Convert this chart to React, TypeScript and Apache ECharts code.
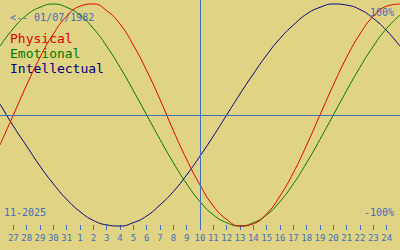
import React, { useEffect, useRef } from "react";
import * as echarts from "echarts";

// Day-of-month labels, Oct 26 .. Nov 25 2025 (today = Nov 10 in the centre)
const dayLabels = [
  "26", "27", "28", "29", "30", "31", "1", "2", "3", "4", "5", "6", "7", "8", "9", "10",
  "11", "12", "13", "14", "15", "16", "17", "18", "19", "20", "21", "22", "23", "24", "25",
];
const todayLabel = "10";

const physical = [
  -0.27, 0, 0.27, 0.52, 0.73, 0.89, 0.98, 1.0, 0.94, 0.82, 0.63, 0.4, 0.14, -0.14, -0.4, -0.63,
  -0.82, -0.94, -1.0, -0.98, -0.89, -0.73, -0.52, -0.27, 0, 0.27, 0.52, 0.73, 0.89, 0.98, 1.0,
];
const emotional = [
  0.62, 0.78, 0.9, 0.97, 1.0, 0.97, 0.9, 0.78, 0.62, 0.43, 0.22, 0, -0.22, -0.43, -0.62, -0.78,
  -0.9, -0.97, -1.0, -0.97, -0.9, -0.78, -0.62, -0.43, -0.22, 0, 0.22, 0.43, 0.62, 0.78, 0.9,
];
const intellectual = [
  0.1, -0.1, -0.28, -0.46, -0.62, -0.76, -0.87, -0.95, -0.99, -1.0, -0.97, -0.91, -0.81, -0.69, -0.54, -0.37,
  -0.19, 0, 0.19, 0.37, 0.54, 0.69, 0.81, 0.91, 0.97, 1.0, 0.99, 0.95, 0.87, 0.76, 0.62,
];

const seriesNames = ["Physical", "Emotional", "Intellectual"];
const birthText = "<-- 01/07/1982";
const monthText = "11-2025";
const topText = "100%";
const bottomText = "-100%";

const BG = "#E0D383";
const BLUE = "#3F6FBE";
const RED = "#E00000";
const GREEN = "#007800";
const NAVY = "#000080";
const MONO = "'DejaVu Sans Mono', 'Liberation Mono', monospace";

export default function App() {
  const ref = useRef<HTMLDivElement>(null);
  useEffect(() => {
    if (!ref.current) return;
    const chart = echarts.init(ref.current, undefined, { renderer: "svg" });
    const txt = (text: string, x: number, y: number, fill: string, size: number, align: string) => ({
      type: "text",
      x,
      y,
      silent: true,
      style: {
        text,
        fill,
        font: `${size}px ${MONO}`,
        textAlign: align,
        align,
        textVerticalAlign: "middle",
        verticalAlign: "middle",
      },
    });
    const inner = (i: number) => i > 0 && i < dayLabels.length - 1;
    chart.setOption({
      animation: false,
      backgroundColor: BG,
      grid: { left: 0, right: 0, top: 0, bottom: 20 },
      xAxis: {
        type: "category",
        data: dayLabels,
        boundaryGap: false,
        axisLine: { show: false, onZero: false },
        axisTick: {
          show: true,
          inside: true,
          length: 5,
          interval: inner,
          lineStyle: { color: BLUE, width: 1 },
        },
        axisLabel: {
          show: true,
          margin: 3,
          interval: inner,
          color: BLUE,
          fontFamily: MONO,
          fontSize: 9,
        },
        splitLine: { show: false },
      },
      yAxis: {
        type: "value",
        min: -1.036,
        max: 1.036,
        show: false,
        splitLine: { show: false },
      },
      series: [
        {
          name: seriesNames[1],
          type: "line",
          data: emotional,
          smooth: true,
          symbol: "none",
          lineStyle: { color: GREEN, width: 1 },
          z: 2,
        },
        {
          name: seriesNames[2],
          type: "line",
          data: intellectual,
          smooth: true,
          symbol: "none",
          lineStyle: { color: NAVY, width: 1 },
          z: 3,
        },
        {
          name: seriesNames[0],
          type: "line",
          data: physical,
          smooth: true,
          symbol: "none",
          lineStyle: { color: RED, width: 1 },
          z: 4,
          markLine: {
            silent: true,
            symbol: "none",
            label: { show: false },
            lineStyle: { color: BLUE, width: 1, type: "solid" },
            data: [{ xAxis: todayLabel }, { yAxis: 0 }],
          },
        },
      ],
      graphic: [
        txt(birthText, 10, 17, BLUE, 10, "left"),
        txt(seriesNames[0], 10, 38, RED, 13, "left"),
        txt(seriesNames[1], 10, 53, GREEN, 13, "left"),
        txt(seriesNames[2], 10, 68, NAVY, 13, "left"),
        txt(topText, 394, 12, BLUE, 10, "right"),
        txt(bottomText, 394, 212, BLUE, 10, "right"),
        txt(monthText, 4, 212, BLUE, 10, "left"),
      ],
    });
    return () => chart.dispose();
  }, []);
  return (
    <div
      ref={ref}
      style={{ position: "absolute", left: 0, top: 0, width: 400, height: 250 }}
    />
  );
}
